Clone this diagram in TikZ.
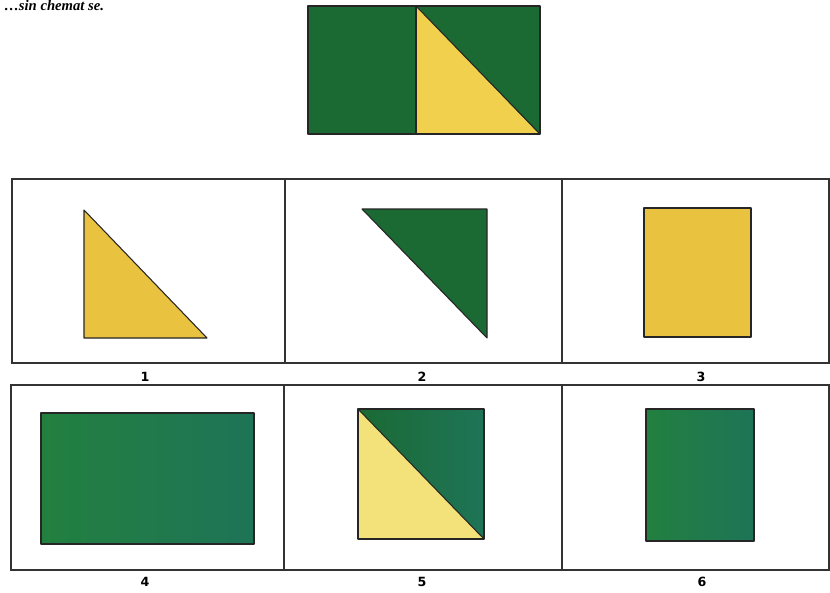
\documentclass[tikz,border=0pt]{standalone}
\usepackage{fontspec}
\setmainfont{Liberation Serif}
\setsansfont{DejaVu Sans}
\begin{document}
\begin{tikzpicture}[x=0.75pt,y=-0.75pt,
  gridline/.style={draw=black!80,line width=0.9pt},
  shapeline/.style={draw=black!85,line width=0.8pt,line join=round},
  lbl/.style={font=\sffamily\bfseries\fontsize{9.5}{10}\selectfont,inner sep=0pt}]
\definecolor{greenA}{HTML}{1B6A34}
\definecolor{greenL}{HTML}{22803F}
\definecolor{greenR}{HTML}{1E7457}
\definecolor{yellowA}{HTML}{E9C23F}
\definecolor{yellowB}{HTML}{F0D04C}
\definecolor{yellowC}{HTML}{F3E27A}
\useasboundingbox (0,0) rectangle (830,592);
% caption at the top
\node[anchor=base west,inner sep=0pt,font=\bfseries\itshape\fontsize{11}{12}\selectfont] (cap) at (4,11) {…sin chemat se.};
% top figure
\fill[greenA] (308,6) rectangle (540,134);
\fill[yellowB] (416,6) -- (416,134) -- (539,134) -- cycle;
\draw[shapeline] (308,6) rectangle (540,134);
\draw[shapeline] (416,6) -- (416,134);
\draw[shapeline] (416,6) -- (540,134);
% grid
\draw[gridline] (12,179) rectangle (829,363);
\draw[gridline] (285,179) -- (285,363);
\draw[gridline] (562,179) -- (562,363);
\draw[gridline] (11,385) rectangle (829,570);
\draw[gridline] (284,385) -- (284,570);
\draw[gridline] (562,385) -- (562,570);
% labels
\node[lbl] (l1) at (145,377) {1};
\node[lbl] (l2) at (422,377) {2};
\node[lbl] (l3) at (701,377) {3};
\node[lbl] (l4) at (145,582) {4};
\node[lbl] (l5) at (422,582) {5};
\node[lbl] (l6) at (702,582) {6};
% option 1
\draw[shapeline,fill=yellowA] (84,210) -- (84,338) -- (207,338) -- cycle;
% option 2
\draw[shapeline,fill=greenA] (362,209) -- (487,209) -- (487,338) -- cycle;
% option 3
\draw[shapeline,fill=yellowA] (644,208) rectangle (751,337);
% option 4
\shade[left color=greenL,right color=greenR] (41,413) rectangle (254,544);
\draw[shapeline] (41,413) rectangle (254,544);
% option 5
\shade[left color=greenA,right color=greenR] (358,409) rectangle (484,539);
\fill[yellowC] (358,409) -- (358,539) -- (484,539) -- cycle;
\draw[shapeline] (358,409) rectangle (484,539);
\draw[shapeline] (358,409) -- (484,539);
% option 6
\shade[left color=greenL,right color=greenR] (646,409) rectangle (754,541);
\draw[shapeline] (646,409) rectangle (754,541);
\end{tikzpicture}
\end{document}
